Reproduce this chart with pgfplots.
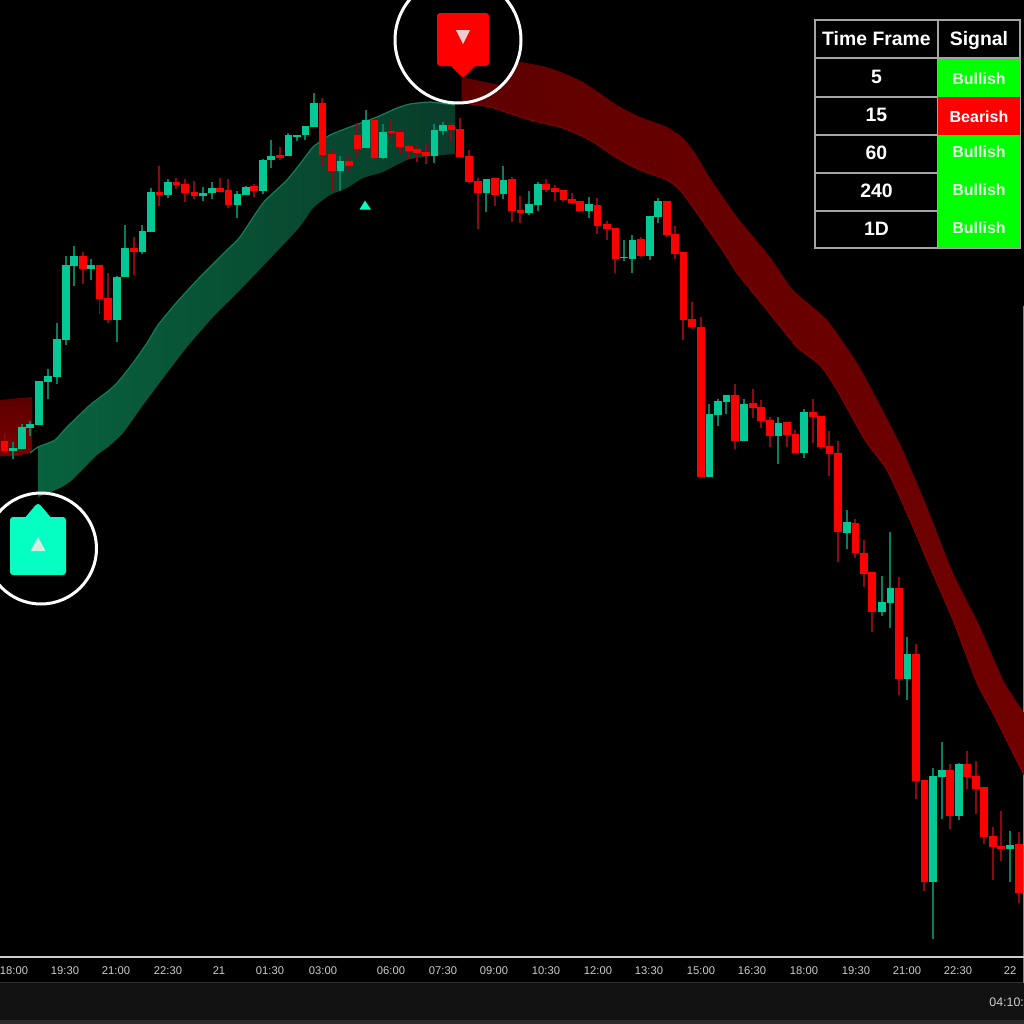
\documentclass[border=0pt]{standalone}
\usepackage{fontspec}
\setmainfont{Liberation Sans}
\usepackage{pgfplots}
\usepackage{pgfplotstable}
\pgfplotsset{compat=1.18}
\definecolor{bodyGreen}{RGB}{3,200,150}
\definecolor{wickGreen}{RGB}{8,125,98}
\definecolor{bodyRed}{RGB}{255,0,0}
\definecolor{wickRed}{RGB}{140,8,18}
\definecolor{pinGreen}{RGB}{5,255,195}
\definecolor{gridGray}{RGB}{165,165,165}
\definecolor{tickGray}{RGB}{205,205,205}
\definecolor{barGray}{RGB}{18,18,18}
\definecolor{barEdge}{RGB}{45,45,45}
\definecolor{sideGray}{RGB}{130,130,130}
\definecolor{sigGreen}{RGB}{0,255,0}
\definecolor{sigText}{RGB}{230,255,230}

% x wick-top wick-bottom body-top body-bottom, in picture pixels
\pgfplotstableread{
x wt wb bt bb
13 442 459 448 451
22 424 449 427 449
30 421 436 424 428
39 381 425 381 425
47.7 369 399 376 382
57 323 384 339 377
65.7 256 345 265 340
74 246 286 256 266
91 259 280 265 269
116.7 276 342 277 320
125 225 277 248 277
142.3 225 254 231 252
151 188 232 192 232
168 179 198 182 195
203 187 201 193 196
211.7 182 199 188 193
237.3 191 218 194 205
245.7 186 195 187 195
262.7 159 194 160 191
271 140 168 156 160
288.3 133 156 135 156
296.7 135 141 135 137
305.3 126 140 126 135
313.7 93 127 103 127
340.3 156 191 161 171
366 110 148 120 148
383 124 159 132 158
434.3 124 163 130 156
442.7 122 135 125 131
486.3 179 212 179 193
503.3 166 199 180 194
529 191 215 204 213
537.7 182 211 184 205
588.7 197 218 204 211
623.7 240 261 257 258
632.3 235 273 240 259
649.7 216 260 216 256
658 198 223 201 217
709.3 404 477 414 477
718 399 426 401 415
726.3 395 414 395 402
744 399 441 404 441
778.3 417 464 423 436
804 409 458 412 453
846.7 510 549 522 533
881.7 576 616 602 612
890.3 532 628 588 603
907.3 637 700 654 679
933 768 939 776 882
941.7 742 819 770 777
958.7 763 820 764 816
1009.7 831 882 845 849
}\upcandles

\pgfplotstableread{
x wt wb bt bb
4.5 434 452 441 451
82.7 252 284 256 269
99.5 265 314 265 299
108 273 323 298 320
133.7 237 275 248 252
159.3 166 206 192 195
176.3 178 189 182 185
185 179 202 184 193
194.3 181 199 192 196
220 178 192 188 192
228.3 179 208 190 205
254 184 197 186 191
279.7 147 160 155 158
322.3 98 166 103 155
331.7 150 192 154 171
349 156 172 161 166
357.3 123 157 135 149
374.3 119 159 120 158
391.3 120 137 131 133
400 130 153 132 147
408.7 145 159 146 151
417 145 162 149 153
425.7 143 164 152 156
451.3 123 141 125 130
459.7 118 157 129 157
469 150 183 156 182
477.7 178 229 181 193
494.7 178 206 178 195
511.7 177 222 179 211
520.3 196 223 210 213
546 179 192 184 190
554.7 185 201 188 192
563.3 190 202 190 200
571.7 193 204 199 203
580 201 211 201 211
597.3 198 234 205 226
606.7 221 240 224 229
615.3 228 273 228 259
641 237 257 239 256
666.7 201 237 201 235
675 226 259 234 254
683.3 252 340 252 320
692 302 329 319 327
700.7 317 477 327 477
735 384 449 395 441
752.7 389 418 403 408
761 400 428 407 421
769.7 417 447 420 436
786.7 422 447 422 435
795.3 430 453 434 453
812.7 399 443 412 417
821 416 449 416 447
829.3 431 476 446 454
838 441 562 453 532
855.3 519 558 523 553
863.7 540 587 553 574
872 572 632 572 612
899 577 695 588 679
915.7 644 799 654 781
924.3 780 891 780 882
950 764 829 770 816
967 751 789 764 777
975.7 761 814 776 789
984 787 844 787 837
992.7 827 880 836 847
1001 811 861 846 849
1019 832 903 844 893
}\downcandles

\pgfplotsset{
  wicks/.style={draw=none, mark=none, forget plot, error bars/.cd, y dir=plus, y explicit,
    error mark=none, error bar style={color=#1, line width=0.85pt}},
  bodies/.style={draw=none, mark=none, forget plot, error bars/.cd, y dir=plus, y explicit,
    error mark=none, error bar style={color=#1, line width=3.8pt}},
}
\tikzset{
  hdr/.style={anchor=base, text=white, font=\fontsize{9.7pt}{11pt}\selectfont\bfseries, inner sep=0pt},
  sig/.style={anchor=base, text=sigText, font=\fontsize{8pt}{9pt}\selectfont\bfseries, inner sep=0pt},
}

\begin{document}
\begin{tikzpicture}
\path[use as bounding box, clip] (0,0) rectangle (512pt,512pt);
\fill[black] (0,0) rectangle (512pt,512pt);
% status bar under the time axis
\fill[barGray] (0,2pt) rectangle (512pt,20.5pt);
\fill[barEdge] (0,0) rectangle (512pt,2pt);
\draw[barEdge, line width=0.5pt] (0,20.5pt) -- (512pt,20.5pt);
\draw[sideGray, line width=0.6pt] (511.7pt,20.5pt) -- (511.7pt,359pt);
\node[anchor=west, inner sep=0pt, text=tickGray, font=\fontsize{6.2pt}{7pt}\selectfont] at (494.5pt,11pt) {04:10:};

\begin{axis}[
    at={(0,33.5pt)}, anchor=south west,
    scale only axis, width=512pt, height=478.5pt,
    xmin=0, xmax=1024, ymin=0, ymax=957,
    y dir=reverse,
    axis y line=none, axis x line*=bottom,
    x axis line style={draw=tickGray, line width=0.7pt},
    xtick={14,65,116,168,219,270,323,391,443,494,546,598,649,701,752,804,856,907,958,1010},
    xticklabels={18:00,19:30,21:00,22:30,21,01:30,03:00,06:00,07:30,09:00,10:30,12:00,13:30,15:00,16:30,18:00,19:30,21:00,22:30,22},
    major tick length=0pt,
    x tick label style={text=tickGray, font=\fontsize{5.6pt}{6.5pt}\selectfont, inner sep=0pt, yshift=-4.5pt},
    clip=true,
]
% bands
\addplot[draw=none, forget plot, top color=red!36!black, bottom color=red!48!black] coordinates {
  (0,400) (32,397) (32,452) (17,456) (0,456)} -- cycle;
\addplot[draw=none, forget plot, smooth, tension=0.35, left color={rgb,255:red,8;green,98;blue,62}, right color={rgb,255:red,8;green,60;blue,42}] coordinates {
  (38,447) (55,440) (67,427) (90,405) (107,392) (117,383) (133,363) (147,343) (158,325) (177,302)
  (200,277) (227,250) (240,237) (263,203) (287,180) (303,160) (313,147) (330,135) (350,127)
  (377,117) (397,108) (410,104) (430,102) (447,104) (455,105) (455,105.5)
  (455,153.5) (455,154) (430,156) (407,160) (383,172) (363,178) (347,188) (330,195) (313,208) (297,230)
  (240,290) (213,317) (187,347) (167,373) (143,405) (123,433) (108,447) (97,455) (72,480) (60,488) (38,497)} -- cycle;
\addplot[forget plot, smooth, tension=0.35, color={rgb,255:red,20;green,125;blue,85}, line width=0.6pt] coordinates {
  (30,453) (38,447) (55,440) (67,427) (90,405) (107,392) (117,383) (133,363) (147,343) (158,325) (177,302)
  (200,277) (227,250) (240,237) (263,203) (287,180) (303,160) (313,147) (330,135) (350,127)
  (377,117) (397,108) (410,104) (430,102) (447,104) (455,105)};
\addplot[draw=none, forget plot, smooth, tension=0.35, left color={rgb,255:red,95;green,0;blue,0}, middle color={rgb,255:red,84;green,0;blue,0}, right color={rgb,255:red,112;green,0;blue,0}] coordinates {
  (461.5,77) (461.6,77) (502,85) (510,76) (516,66) (520,62) (550,68) (583,82) (617,105) (640,117) (667,127) (683,138) (695,153)
  (710,178) (737,217) (770,257) (793,290) (827,320) (860,368) (898,440) (910,467) (927,507)
  (953,573) (980,627) (1003,680) (1024,713) (1024,713.5)
  (1024,774.5) (1024,775) (993,713) (977,683) (953,620) (927,560) (910,520) (887,470) (865,440) (837,390) (820,365)
  (797,347) (767,310) (737,273) (727,257) (697,213) (680,190) (667,180) (640,170) (617,158) (590,140)
  (563,128) (530,120) (490,107) (461.6,103) (461.5,103)} -- cycle;
\addplot[forget plot, smooth, tension=0.35, color={rgb,255:red,135;green,0;blue,0}, line width=0.5pt] coordinates {
  (1024,775) (993,713) (977,683) (953,620) (927,560) (910,520) (887,470) (865,440) (837,390) (820,365)
  (797,347) (767,310) (737,273) (727,257) (697,213) (680,190) (667,180) (640,170) (617,158) (590,140)
  (563,128) (530,120) (490,107) (461.5,103)};

% candles
\addplot[wicks=wickGreen] table[x=x, y=wt, y error expr=\thisrow{wb}-\thisrow{wt}] {\upcandles};
\addplot[wicks=wickRed] table[x=x, y=wt, y error expr=\thisrow{wb}-\thisrow{wt}] {\downcandles};
\addplot[bodies=bodyGreen] table[x=x, y=bt, y error expr=\thisrow{bb}-\thisrow{bt}] {\upcandles};
\addplot[bodies=bodyRed] table[x=x, y=bt, y error expr=\thisrow{bb}-\thisrow{bt}] {\downcandles};

% small signal triangle
\addplot[forget plot, draw=none, fill=pinGreen] coordinates {(365,200.5) (371,209.5) (359.5,209.5)} -- cycle;

% buy pin
\addplot[forget plot, draw=pinGreen, fill=pinGreen, line width=3pt, line join=round] coordinates {
  (13,520) (27,520) (38,507) (49,520) (63,520) (63,572) (13,572)} -- cycle;
\addplot[forget plot, draw=none, fill={rgb,255:red,215;green,235;blue,225}] coordinates {(38,537) (45.5,551) (30.5,551)} -- cycle;
% sell pin
\addplot[forget plot, draw=bodyRed, fill=bodyRed, line width=3pt, line join=round] coordinates {
  (440,16) (486,16) (486,63) (474,63) (463,74) (452,63) (440,63)} -- cycle;
\addplot[forget plot, draw=none, fill={rgb,255:red,235;green,205;blue,205}] coordinates {(456,30) (470,30) (463,44)} -- cycle;
% rings round the pins
\addplot[forget plot, only marks, mark=o, mark size=27.75pt, mark options={draw=white, line width=1.5pt}] coordinates {(41,548.5)};
\addplot[forget plot, only marks, mark=o, mark size=31.5pt, mark options={draw=white, line width=1.5pt}] coordinates {(458,40)};

% time frame table
\fill[black] (axis cs:815,20) rectangle (axis cs:1020,248);
\draw[gridGray, line width=0.8pt] (axis cs:815,20) rectangle (axis cs:1020,248);
\draw[gridGray, line width=0.8pt] (axis cs:815,58) -- (axis cs:1020,58);
\draw[gridGray, line width=0.8pt] (axis cs:815,97) -- (axis cs:938,97);
\draw[gridGray, line width=0.8pt] (axis cs:815,135) -- (axis cs:938,135);
\draw[gridGray, line width=0.8pt] (axis cs:815,173) -- (axis cs:938,173);
\draw[gridGray, line width=0.8pt] (axis cs:815,211) -- (axis cs:938,211);
\draw[gridGray, line width=0.8pt] (axis cs:938,20) -- (axis cs:938,248);
\fill[sigGreen] (axis cs:938,58.5) rectangle (axis cs:1019.5,247.5);
\fill[bodyRed] (axis cs:938,97) rectangle (axis cs:1019.5,135);
\node[hdr] at (axis cs:876.5,45) {Time Frame};
\node[hdr] at (axis cs:979,45) {Signal};
\node[hdr] at (axis cs:876.5,83) {5};
\node[hdr] at (axis cs:876.5,121) {15};
\node[hdr] at (axis cs:876.5,159) {60};
\node[hdr] at (axis cs:876.5,197) {240};
\node[hdr] at (axis cs:876.5,235) {1D};
\node[sig] at (axis cs:979,84) {Bullish};
\node[sig, text=white] at (axis cs:979,122.5) {Bearish};
\node[sig] at (axis cs:979,157.5) {Bullish};
\node[sig] at (axis cs:979,195) {Bullish};
\node[sig] at (axis cs:979,233) {Bullish};
\end{axis}
\end{tikzpicture}
\end{document}
